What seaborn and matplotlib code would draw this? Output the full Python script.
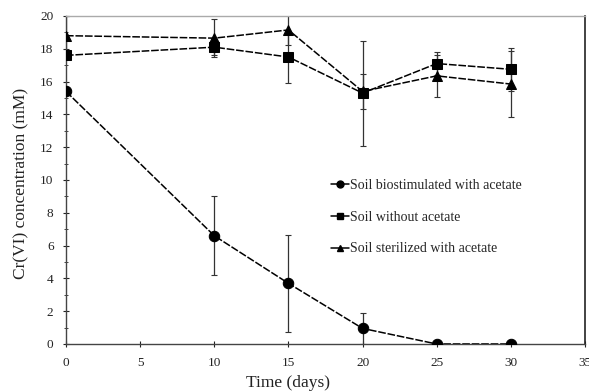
import matplotlib
matplotlib.use("Agg")
import matplotlib.pyplot as plt
import seaborn as sns
import pandas as pd

sns.set_theme(style="white")
plt.rcParams["font.family"] = ["Liberation Serif", "DejaVu Serif"]

days = [0, 10, 15, 20, 25, 30]
series_names = ["Soil biostimulated with acetate",
                "Soil without acetate",
                "Soil sterilized with acetate"]
biostim = [15.4, 6.6, 3.7, 0.95, 0.0, 0.0]
biostim_err = [0.0, 2.4, 2.95, 0.97, 0.0, 0.0]
no_acetate = [17.6, 18.1, 17.5, 15.3, 17.1, 16.75]
no_acetate_err = [0.2, 0.5, 1.6, 3.2, 0.7, 1.3]
sterilized = [18.8, 18.65, 19.15, 15.4, 16.35, 15.85]
sterilized_err = [1.2, 1.15, 0.9, 1.05, 1.3, 2.0]

values = [biostim, no_acetate, sterilized]
errors = [biostim_err, no_acetate_err, sterilized_err]
markers = ["o", "s", "^"]

df = pd.DataFrame({
    "Time (days)": days * 3,
    "conc": biostim + no_acetate + sterilized,
    "series": [n for n in series_names for _ in days],
})

fig = plt.figure(figsize=(5.89, 3.91), dpi=100)
ax = fig.add_axes([66 / 589, 1 - 344 / 391, 519 / 589, 328 / 391])

# error bars first so markers sit on top
for v, e in zip(values, errors):
    ax.errorbar(days, v, yerr=e, fmt="none", ecolor="#333333",
                elinewidth=0.9, capsize=2, capthick=0.8, zorder=2)

sns.lineplot(data=df, x="Time (days)", y="conc", hue="series", style="series",
             markers=dict(zip(series_names, markers)),
             dashes={n: (5, 1.2) for n in series_names},
             palette={n: "black" for n in series_names},
             markersize=7.5, linewidth=1.1, markeredgecolor="black",
             ax=ax, zorder=3, legend=False)

handles = [plt.Line2D([], [], color="black", marker=m, markersize=5,
                      linewidth=1.1) for m in markers]
ax.legend(handles, series_names, loc="upper left",
          bbox_to_anchor=(0.5, 0.52), frameon=False, fontsize=10,
          handlelength=1.3, handletextpad=0.1, labelspacing=1.35,
          borderaxespad=0)

ax.set_xlim(0, 35)
ax.set_ylim(0, 20)
ax.set_xticks(range(0, 36, 5))
ax.set_yticks(range(0, 21, 2))
ax.set_yticks(range(1, 20, 2), minor=True)
ax.tick_params(axis="both", which="major", labelsize=9.5, direction="inout",
               length=4, width=0.8, colors="#222222")
ax.tick_params(axis="x", which="major", pad=7, bottom=True)
ax.tick_params(axis="y", which="major", pad=7, left=True)
ax.tick_params(axis="y", which="minor", direction="inout", length=3,
               width=0.6, left=True)

ax.set_xlabel("Time (days)", fontsize=12.5, labelpad=1, color="#222222")
ax.xaxis.set_label_coords(0.428, -0.095)
ax.set_ylabel("Cr(VI) concentration (mM)", fontsize=12.5, color="#222222")
ax.yaxis.set_label_coords(-0.07, 0.49)

for side in ["left", "bottom"]:
    ax.spines[side].set_color("#444444")
    ax.spines[side].set_linewidth(1.0)
ax.spines["top"].set_color("#aaaaaa")
ax.spines["top"].set_linewidth(1.0)
ax.spines["right"].set_color("#222222")
ax.spines["right"].set_linewidth(1.2)

fig.savefig("out.png", dpi=100)
